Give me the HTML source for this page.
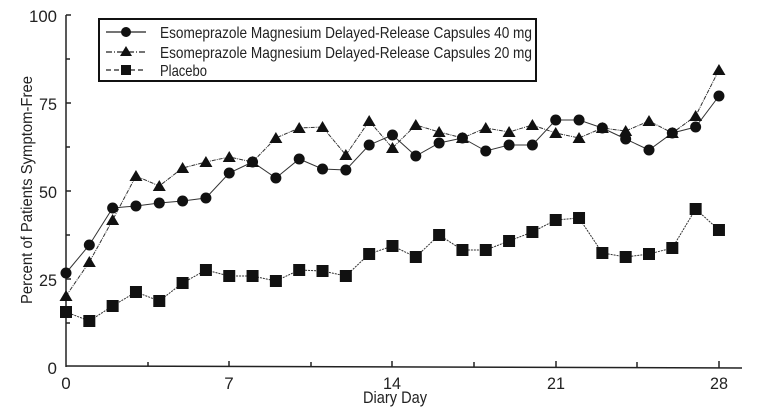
<!DOCTYPE html>
<html><head><meta charset="utf-8"><style>
html,body{margin:0;padding:0;background:#fff;}
svg{display:block;font-family:"Liberation Sans",sans-serif;}
</style></head><body>
<svg width="757" height="413" viewBox="0 0 757 413" xmlns="http://www.w3.org/2000/svg">
<g stroke="#222" stroke-width="1.5" fill="none">
<line x1="66" y1="15" x2="66" y2="367"/>
<line x1="66" y1="366" x2="742" y2="368"/>
<line x1="66" y1="15" x2="71" y2="15"/>
<line x1="66" y1="59" x2="70" y2="59"/>
<line x1="66" y1="103" x2="71" y2="103"/>
<line x1="66" y1="147" x2="70" y2="147"/>
<line x1="66" y1="191" x2="71" y2="191"/>
<line x1="66" y1="235" x2="70" y2="235"/>
<line x1="66" y1="279" x2="71" y2="279"/>
<line x1="66" y1="323" x2="70" y2="323"/>
<line x1="148" y1="362" x2="148" y2="366"/>
<line x1="229" y1="361" x2="229" y2="366"/>
<line x1="311" y1="362" x2="311" y2="367"/>
<line x1="392" y1="361" x2="392" y2="367"/>
<line x1="474" y1="362" x2="474" y2="367"/>
<line x1="556" y1="361" x2="556" y2="367"/>
<line x1="637" y1="362" x2="637" y2="368"/>
<line x1="719" y1="361" x2="719" y2="368"/>
</g>
<g font-size="17" fill="#222" text-anchor="end">
<text x="57" y="22" textLength="28" lengthAdjust="spacingAndGlyphs">100</text><text x="57" y="110" textLength="18" lengthAdjust="spacingAndGlyphs">75</text><text x="57" y="198" textLength="18" lengthAdjust="spacingAndGlyphs">50</text><text x="57" y="286" textLength="18" lengthAdjust="spacingAndGlyphs">25</text><text x="57" y="374">0</text>
</g>
<g font-size="17" fill="#222" text-anchor="middle">
<text x="66" y="389">0</text><text x="229" y="389">7</text><text x="392" y="389" textLength="18" lengthAdjust="spacingAndGlyphs">14</text><text x="556" y="389" textLength="18" lengthAdjust="spacingAndGlyphs">21</text><text x="719" y="389" textLength="18" lengthAdjust="spacingAndGlyphs">28</text>
<text x="395" y="403" textLength="64" lengthAdjust="spacingAndGlyphs">Diary Day</text>
</g>
<text transform="translate(32,190) rotate(-90)" font-size="16" fill="#222" text-anchor="middle" textLength="228" lengthAdjust="spacingAndGlyphs">Percent of Patients Symptom-Free</text>
<rect x="99" y="19" width="437" height="62" fill="#fff" stroke="#111" stroke-width="2"/>
<g stroke="#222" stroke-width="1.3">
<line x1="106" y1="32" x2="146" y2="32"/>
<line x1="106" y1="52" x2="146" y2="52" stroke-dasharray="6,2,1,2"/>
<line x1="106" y1="70" x2="146" y2="70" stroke-dasharray="5,3"/>
</g>
<circle cx="126" cy="32" r="5" fill="#111"/>
<polygon points="126,46 132,56 120,56" fill="#111"/>
<rect x="121" y="65" width="10" height="10" fill="#111"/>
<g font-size="16" fill="#222">
<text x="160" y="38" textLength="372" lengthAdjust="spacingAndGlyphs">Esomeprazole Magnesium Delayed-Release  Capsules 40 mg</text>
<text x="160" y="58" textLength="372" lengthAdjust="spacingAndGlyphs">Esomeprazole Magnesium Delayed-Release  Capsules 20 mg</text>
<text x="160" y="76" textLength="47" lengthAdjust="spacingAndGlyphs">Placebo</text>
</g>
<g id="d"></g>
<script>
var C=[273,245,208,206,203,201,198,173,162,178,159,169,170,145,135,156,143,138,151,145,145,120,120,128,139,150,133,127,96];
var T=[296,262,220,176,186,168,162,157,162,138,128,127,155,121,148,125,132,138,128,132,125,133,138,128,131,121,133,116,70];
var S=[312,321,306,292,301,283,270,276,276,281,270,271,276,254,246,257,235,250,250,241,232,220,218,253,257,254,248,209,230];
var ns="http://www.w3.org/2000/svg",g=document.getElementById('d');
function X(i){return 66+i*23.32;}
function el(n,a){var e=document.createElementNS(ns,n);for(var k in a)e.setAttribute(k,a[k]);g.appendChild(e);}
function line(A,dash){el('polyline',{points:A.map(function(y,i){return X(i)+','+y}).join(' '),fill:'none',stroke:'#333','stroke-width':1,'stroke-dasharray':dash});}
line(C,'');line(T,'4,1,1,1');line(S,'2,1');
C.forEach(function(y,i){el('circle',{cx:X(i),cy:y,r:5.5,fill:'#111'});});
T.forEach(function(y,i){var x=X(i);el('polygon',{points:(x)+','+(y-6)+' '+(x+6.5)+','+(y+5)+' '+(x-6.5)+','+(y+5),fill:'#111'});});
S.forEach(function(y,i){el('rect',{x:X(i)-6,y:y-6,width:12,height:12,fill:'#111'});});
</script>
</svg>
</body></html>
